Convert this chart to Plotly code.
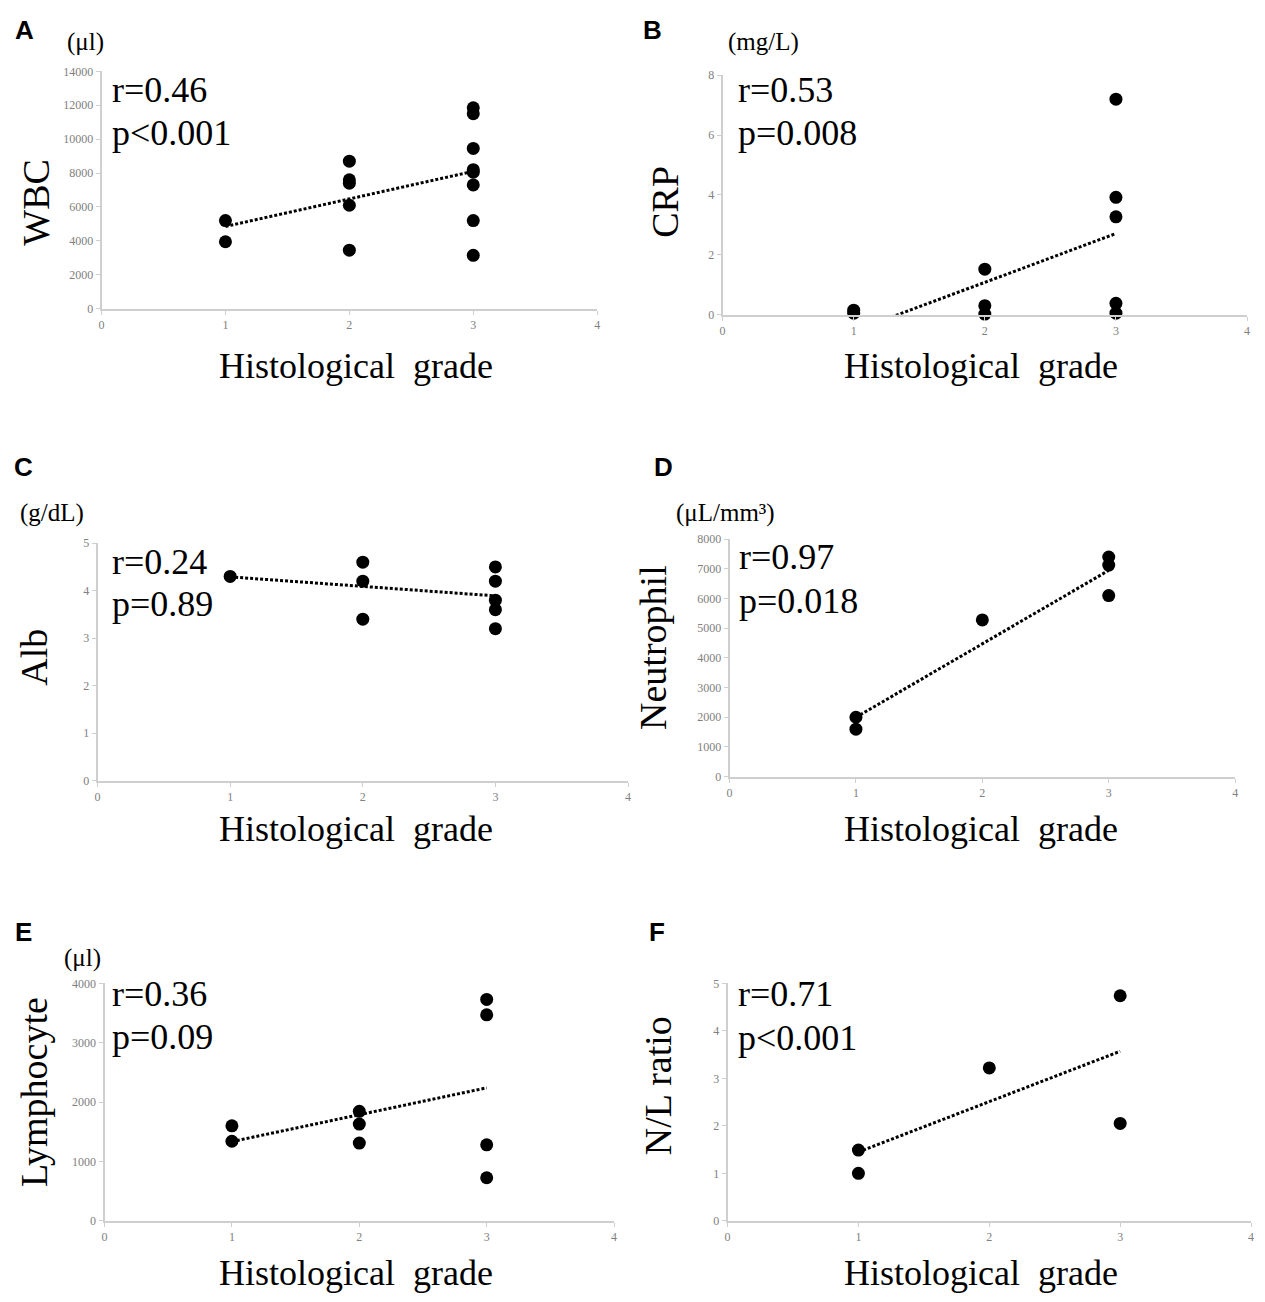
import plotly.graph_objects as go

W, H = 1265, 1302

# ---------------- data ----------------
wbc_grade = [1, 1, 2, 2, 2, 2, 2, 3, 3, 3, 3, 3, 3, 3, 3]
wbc_vals = [5200, 3950, 8700, 7600, 7400, 6100, 3450, 11850, 11500, 9450, 8200, 8050, 7300, 5200, 3150]
wbc_trend = [4850, 8100]

crp_grade = [1, 1, 2, 2, 2, 3, 3, 3, 3, 3]
crp_vals = [0.15, 0.05, 1.52, 0.3, 0.02, 7.2, 3.92, 3.27, 0.38, 0.05]
crp_trend = [-0.55, 2.71]

alb_grade = [1, 2, 2, 2, 3, 3, 3, 3, 3]
alb_vals = [4.3, 4.6, 4.2, 3.4, 4.5, 4.2, 3.8, 3.6, 3.2]
alb_trend = [4.29, 3.89]

neu_grade = [1, 1, 2, 3, 3, 3]
neu_vals = [2000, 1600, 5280, 7400, 7130, 6100]
neu_trend = [2000, 6950]

lym_grade = [1, 1, 2, 2, 2, 3, 3, 3, 3]
lym_vals = [1600, 1340, 1845, 1630, 1310, 3730, 3470, 1280, 725]
lym_trend = [1335, 2240]

nl_grade = [1, 1, 2, 3, 3]
nl_vals = [1.49, 1.0, 3.22, 4.74, 2.05]
nl_trend = [1.45, 3.57]

trend_x = [1, 3]
x_ticks = [0, 1, 2, 3, 4]

panels = [
    dict(letter="A", unit="(μl)", ytitle="WBC", r="r=0.46", p="p<0.001",
         gx=wbc_grade, gy=wbc_vals, ty=wbc_trend, ymax=14000, dtick=2000),
    dict(letter="B", unit="(mg/L)", ytitle="CRP", r="r=0.53", p="p=0.008",
         gx=crp_grade, gy=crp_vals, ty=crp_trend, ymax=8, dtick=2),
    dict(letter="C", unit="(g/dL)", ytitle="Alb", r="r=0.24", p="p=0.89",
         gx=alb_grade, gy=alb_vals, ty=alb_trend, ymax=5, dtick=1),
    dict(letter="D", unit="(μL/mm³)", ytitle="Neutrophil", r="r=0.97", p="p=0.018",
         gx=neu_grade, gy=neu_vals, ty=neu_trend, ymax=8000, dtick=1000),
    dict(letter="E", unit="(μl)", ytitle="Lymphocyte", r="r=0.36", p="p=0.09",
         gx=lym_grade, gy=lym_vals, ty=lym_trend, ymax=4000, dtick=1000),
    dict(letter="F", unit="", ytitle="N/L ratio", r="r=0.71", p="p<0.001",
         gx=nl_grade, gy=nl_vals, ty=nl_trend, ymax=5, dtick=1),
]

# ---------------- layout geometry (pixels) ----------------
geom = [
    dict(x0=99, x1=597, yb=305, yt=65, L=(22, 23), U=(83, 35), T=(33, 197), rx=108, ry=84, py=127, X=(355, 363)),
    dict(x0=723, x1=1250, yb=311, yt=69, L=(653, 23), U=(764, 35), T=(665, 197), rx=736, ry=84, py=127, X=(983, 363)),
    dict(x0=95, x1=628, yb=782, yt=542, L=(21, 465), U=(49, 511), T=(31, 657), rx=108, ry=561, py=603, X=(355, 831)),
    dict(x0=730, x1=1238, yb=778, yt=538, L=(664, 465), U=(726, 511), T=(653, 647), rx=737, ry=556, py=600, X=(983, 831)),
    dict(x0=102, x1=614, yb=1227, yt=987, L=(21, 935), U=(80, 961), T=(31, 1097), rx=108, ry=998, py=1041, X=(355, 1280)),
    dict(x0=728, x1=1254, yb=1227, yt=987, L=(657, 935), U=(0, 0), T=(658, 1090), rx=736, ry=998, py=1042, X=(983, 1280)),
]

def px(x):
    return x / W

def py(y):
    return 1 - y / H

SERIF = "Liberation Serif"
SANS = "Liberation Sans"
AXIS_COLOR = "#cfcfcf"
TICK_FONT = dict(family=SERIF, size=12, color="#808080")

fig = go.Figure()
annotations = []
layout_axes = {}

for i, (pnl, g) in enumerate(zip(panels, geom)):
    n = "" if i == 0 else str(i + 1)
    xa, ya = "x" + n, "y" + n
    fig.add_trace(go.Scatter(
        x=trend_x, y=pnl["ty"], mode="lines", xaxis=xa, yaxis=ya,
        line=dict(color="black", width=3, dash="3px,2px"), showlegend=False, hoverinfo="skip"))
    fig.add_trace(go.Scatter(
        x=pnl["gx"], y=pnl["gy"], mode="markers", xaxis=xa, yaxis=ya,
        marker=dict(color="black", size=13, line=dict(width=0)), cliponaxis=False, showlegend=False))

    layout_axes["xaxis" + n] = dict(
        domain=[px(g["x0"]), px(g["x1"])], anchor=ya, range=[0, 4],
        tickmode="array", tickvals=x_ticks, ticktext=[str(t) for t in x_ticks],
        showline=True, linecolor=AXIS_COLOR, linewidth=2, ticks="outside", ticklen=4,
        tickcolor=AXIS_COLOR, tickwidth=1, showgrid=False, zeroline=False, tickfont=TICK_FONT,
        fixedrange=True)
    layout_axes["yaxis" + n] = dict(
        domain=[py(g["yb"]), py(g["yt"])], anchor=xa, range=[0, pnl["ymax"]], dtick=pnl["dtick"],
        tickformat="d",
        showline=True, linecolor=AXIS_COLOR, linewidth=2, ticks="outside", ticklen=4,
        tickcolor=AXIS_COLOR, tickwidth=1, showgrid=False, zeroline=False, tickfont=TICK_FONT,
        fixedrange=True)

    annotations.append(dict(text="<b>" + pnl["letter"] + "</b>", x=px(g["L"][0]), y=py(g["L"][1]),
                            xref="paper", yref="paper", showarrow=False, xanchor="center", yanchor="middle",
                            font=dict(family=SANS, size=26, color="black")))
    if pnl["unit"]:
        annotations.append(dict(text=pnl["unit"], x=px(g["U"][0]), y=py(g["U"][1]),
                                xref="paper", yref="paper", showarrow=False, xanchor="center", yanchor="middle",
                                font=dict(family=SERIF, size=25, color="black")))
    annotations.append(dict(text=pnl["ytitle"], x=px(g["T"][0]), y=py(g["T"][1]), textangle=-90,
                            xref="paper", yref="paper", showarrow=False, xanchor="center", yanchor="middle",
                            font=dict(family=SERIF, size=38, color="black")))
    annotations.append(dict(text=pnl["r"], x=px(g["rx"]), y=py(g["ry"]),
                            xref="paper", yref="paper", showarrow=False, xanchor="left", yanchor="middle",
                            font=dict(family=SERIF, size=36, color="black")))
    annotations.append(dict(text=pnl["p"], x=px(g["rx"]), y=py(g["py"]),
                            xref="paper", yref="paper", showarrow=False, xanchor="left", yanchor="middle",
                            font=dict(family=SERIF, size=36, color="black")))
    annotations.append(dict(text="Histological\u00a0\u00a0grade", x=px(g["X"][0]), y=py(g["X"][1]),
                            xref="paper", yref="paper", showarrow=False, xanchor="center", yanchor="middle",
                            font=dict(family=SERIF, size=36, color="black")))

fig.update_layout(
    width=W, height=H, margin=dict(l=0, r=0, t=0, b=0),
    paper_bgcolor="white", plot_bgcolor="white", showlegend=False,
    annotations=annotations, **layout_axes)

fig.write_html("out.html", config={"displayModeBar": False},
               post_script="document.body.style.margin='0';document.body.style.overflow='hidden';")
